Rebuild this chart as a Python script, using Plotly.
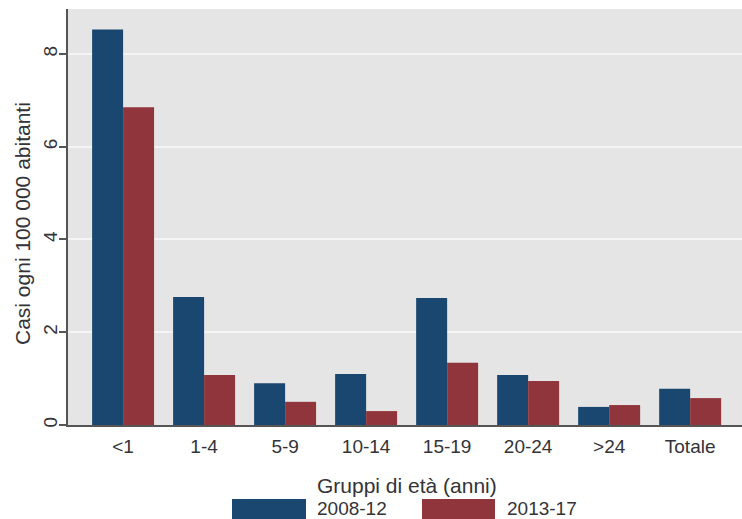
import plotly.graph_objects as go

categories = ["<1", "1-4", "5-9", "10-14", "15-19", "20-24", ">24", "Totale"]
series_names = ["2008-12", "2013-17"]
values_2008_12 = [8.53, 2.76, 0.90, 1.10, 2.74, 1.08, 0.39, 0.78]
values_2013_17 = [6.85, 1.08, 0.50, 0.30, 1.34, 0.95, 0.43, 0.58]
y_ticks = [0, 2, 4, 6, 8]

colors = ["#1a476f", "#90353b"]
font_family = "Liberation Sans, Arial, sans-serif"
text_color = "#333338"

W, H = 742, 519
L, R, T, B = 68, 0, 9, 94
pw, ph = W - L - R, H - T - B

def px_x(x):
    return (x - L) / pw

def px_y(y):
    return (H - B - y) / ph

fig = go.Figure()
for name, vals, col in zip(series_names, [values_2008_12, values_2013_17], colors):
    fig.add_trace(go.Bar(x=categories, y=vals, name=name, marker_color=col,
                         marker_line_width=0, showlegend=False))

fig.update_layout(
    width=W, height=H,
    margin=dict(l=L, r=R, t=T, b=B),
    paper_bgcolor="white",
    plot_bgcolor="#e5e5e5",
    barmode="group",
    bargap=0.235,
    bargroupgap=0,
    font=dict(family=font_family, color=text_color, size=18),
    xaxis=dict(
        type="category",
        range=[-0.68, 7.64],
        showgrid=False,
        showline=True, linecolor="#555555", linewidth=1.5,
        ticks="", tickfont=dict(size=19, color=text_color),
        ticklabelstandoff=3,
        zeroline=False,
    ),
    yaxis=dict(
        range=[0, 8.97],
        tickvals=y_ticks,
        tickangle=-90,
        ticks="outside", ticklen=7, tickcolor="#555555", tickwidth=1.5,
        showline=True, linecolor="#555555", linewidth=1.5,
        showgrid=True, gridcolor="#f4f4f4", gridwidth=2,
        zeroline=False,
        ticklabelstandoff=-5,
        tickfont=dict(size=19, color=text_color),
    ),
)

# Axis titles
fig.add_annotation(text="Casi ogni 100 000 abitanti", xref="paper", yref="paper",
                   x=px_x(22), y=px_y(224), textangle=-90, showarrow=False,
                   font=dict(size=21, color=text_color), xanchor="center", yanchor="middle")
fig.add_annotation(text="Gruppi di età (anni)", xref="paper", yref="paper",
                   x=px_x(407), y=px_y(485), showarrow=False,
                   font=dict(size=21, color=text_color), xanchor="center", yanchor="middle")

# Legend (swatches + labels)
legend_items = [(232, 306, 315), (422, 495, 505)]
for (x0, x1, tx), name, col in zip(legend_items, series_names, colors):
    fig.add_shape(type="rect", xref="paper", yref="paper",
                  x0=px_x(x0), x1=px_x(x1), y0=px_y(499), y1=px_y(521),
                  fillcolor=col, line_width=0)
    fig.add_annotation(text=name, xref="paper", yref="paper", x=px_x(tx), y=px_y(508),
                       showarrow=False, xanchor="left", yanchor="middle",
                       font=dict(size=19, color=text_color))

fig.write_html("out.html", config={"displayModeBar": False},
               post_script="document.body.style.margin='0';document.body.style.overflow='hidden';")
